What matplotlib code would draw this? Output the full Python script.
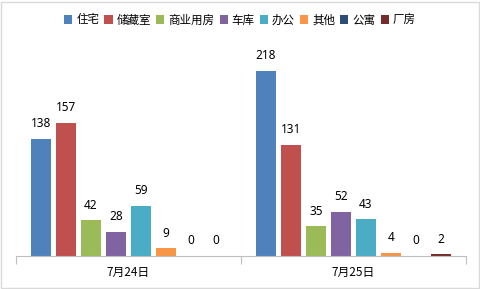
import matplotlib
matplotlib.use("Agg")
import matplotlib.pyplot as plt
from matplotlib.patches import Rectangle
import numpy as np

plt.rcParams['font.family'] = ['Noto Sans CJK SC', 'DejaVu Sans']

groups = ["7月24日", "7月25日"]
series = ["住宅", "储藏室", "商业用房", "车库", "办公", "其他", "公寓", "厂房"]
values = {
    "住宅": [138, 218],
    "储藏室": [157, 131],
    "商业用房": [42, 35],
    "车库": [28, 52],
    "办公": [59, 43],
    "其他": [9, 4],
    "公寓": [0, 0],
    "厂房": [0, 2],
}
colors = ["#4F81BD", "#C0504D", "#9BBB59", "#8064A2", "#4BACC6", "#F79646", "#2C4D75", "#772C2A"]

W, H = 481, 289
fig = plt.figure(figsize=(W / 100, H / 100), dpi=100)
ax = fig.add_axes([16 / W, 33 / H, 450 / W, 212 / H])

step = 1 / 9
width = 20 / 225
x = np.arange(len(groups))
handles = []
for i, s in enumerate(series):
    pos = x + (i - 3.5) * step
    b = ax.bar(pos, values[s], width=width, color=colors[i], label=s, zorder=2)
    handles.append(b)
    for px, v in zip(pos, values[s]):
        ax.annotate(str(v), (px, v), xytext=(0, 11), textcoords="offset points",
                    ha="center", va="center", fontsize=8.5, color="#000000",
                    family=['Noto Sans'])

ax.set_xlim(-0.5, 1.5)
ax.set_ylim(0, 212 / 0.849)
for sp in ["top", "right", "left"]:
    ax.spines[sp].set_visible(False)
ax.spines["bottom"].set_color("#BFBFBF")
ax.spines["bottom"].set_linewidth(0.8)
ax.set_yticks([])
ax.set_xticks([-0.5, 0.5, 1.5])
ax.set_xticklabels([])
ax.tick_params(axis="x", length=6, color="#BFBFBF", width=0.8)
for gx, g in zip(x, groups):
    ax.text(gx, -16 / 0.849, g, ha="center", va="center", fontsize=8.5, color="#000000")

fig.legend(handles, series, loc="center", bbox_to_anchor=(240 / W, 1 - 20 / H),
           ncol=8, frameon=False, fontsize=8.3, handlelength=0.7, handleheight=0.7,
           handletextpad=0.35, columnspacing=0.45, borderaxespad=0)

fig.patches.append(Rectangle((1 / W, 1 / H), (W - 3) / W, (H - 3) / H, transform=fig.transFigure,
                             fill=False, edgecolor="#D9D9D9", linewidth=1))

fig.savefig("out.png", dpi=100)
